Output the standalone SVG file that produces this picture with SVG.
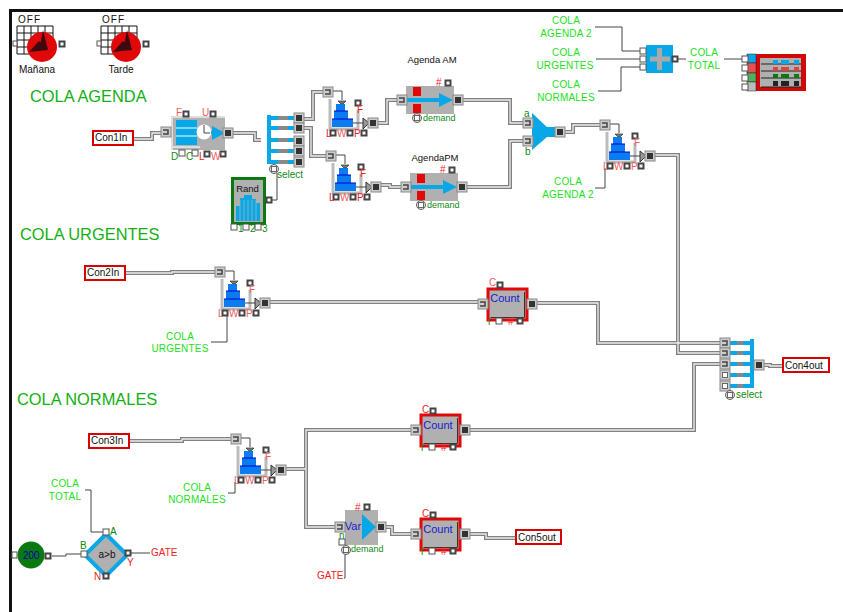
<svg xmlns="http://www.w3.org/2000/svg" width="843" height="612" viewBox="0 0 843 612">
<style>
text{font-family:"Liberation Sans",Arial,sans-serif;font-size:10px}
.t{font-size:16.400px;fill:#12b012}
.l{fill:#22e022;text-anchor:middle;letter-spacing:.2px}
.r{fill:#f02020}
.p{fill:#f05a5a}
.g{fill:#108a10}
.d{fill:#108a10;font-size:9px}
.k{fill:#111}
.m{fill:#111;text-anchor:middle}
.a{fill:#111;text-anchor:middle;font-size:9.500px}
.b{fill:#1a1ad0;text-anchor:middle;font-size:11px}
.box{fill:#fff;stroke:#d80000;stroke-width:2}
.thin{fill:none;stroke:#444;stroke-width:1}
.blue{fill:#08a8e8}
.gray{fill:#b0b0b0}
.hd{fill:none;stroke:#808080;stroke-width:4}
.hl{fill:none;stroke:#ececec;stroke-width:1.3}
</style>
<defs>
<g id="po"><rect x="-3.500" y="-3.500" width="7" height="7" fill="#444"/><rect x="-1.500" y="-1.500" width="3" height="3" fill="#fff"/></g>
<g id="pw"><rect x="-3" y="-3" width="6" height="6" fill="#fff" stroke="#555"/></g>
<g id="ci"><rect x="-5" y="-5" width="10" height="10" fill="#ccc" stroke="#888"/><path d="M-3-2H2V2H-3" fill="none" stroke="#444" stroke-width="1.500"/></g>
<g id="co"><rect x="-5" y="-5" width="10" height="10" fill="#ccc" stroke="#888"/><rect x="-3" y="-3" width="6" height="6" fill="#333"/></g>
<g id="cw"><rect x="-5" y="-5" width="10" height="10" fill="#ccc" stroke="#888"/><rect x="-2.500" y="-2.500" width="5" height="5" fill="#fff" stroke="#666"/></g>
<g id="dm"><circle r="4.500" fill="#ddd" stroke="#666"/><rect x="-2.500" y="-2.500" width="5" height="5" fill="#fff" stroke="#666"/></g>
<g id="sched">
<path d="M0 0H36V28H0Z M7 0V28M14 0V28M21 0V28M28 0V28M0 7H36M0 14H36M0 21H36" fill="#fff" stroke="#111"/>
<rect x="-4" y="15" width="4" height="5" fill="#fff" stroke="#555"/>
<circle cx="25" cy="21" r="15" fill="#e00808"/>
<path d="M26 4 31 24 21 24 24 15Z M31 24 12 26 22 15Z" fill="#3e0a10"/>
<use href="#po" x="45" y="18"/>
</g>
<g id="q">
<path d="M4-1H14V8" class="thin"/>
<path d="M2 7V37H30V18" fill="none" stroke="#bbb" stroke-width="3"/>
<path d="M10 9H18L15 12H13Z" fill="#777" stroke="#333" stroke-width=".7"/>
<path d="M8 12H17V19H20V27H25V35H4V27H6V19H8Z" fill="#0a7cf0"/>
<path d="M6 19H20M4 27H25" stroke="#0000d0" stroke-width="1"/>
<path d="M25 31H35" class="thin"/>
<path d="M35 26 41 31 35 37Z" fill="#999" stroke="#333"/>
<use href="#ci"/>
<use href="#co" x="45" y="31"/>
<use href="#po" x="30" y="11"/>
<use href="#po" x="5" y="41"/><use href="#po" x="22" y="41"/><use href="#po" x="36" y="41"/>
</g>
<g id="delay">
<rect x="4" y="-14" width="48" height="28" class="gray"/>
<rect x="11" y="-13" width="8" height="9" fill="#e00808"/><rect x="11" y="4" width="8" height="9" fill="#e00808"/>
<path d="M5-2H37V-7L51 0 37 7V2H5Z" class="blue"/>
<use href="#ci"/><use href="#co" x="56"/><use href="#po" x="46" y="-17"/><use href="#dm" x="15" y="18"/>
</g>
<g id="count">
<rect x="1" y="1" width="39" height="31" fill="#b0b0b0" stroke="#e00808" stroke-width="3"/>
<path d="M3.500 29.500H37.500V4" fill="none" stroke="#333"/>
<use href="#ci" x="-4" y="16"/><use href="#co" x="45" y="16"/>
<use href="#po" x="13" y="-3"/><use href="#pw" x="12" y="33"/><use href="#po" x="33" y="33"/>
</g>
<g id="w">
<path d="M133 139H152V133H163M228 133H255V140H261M300 119H313V92H325M300 128H311V156H328M373 123H387V100H399M376 185H390V187H403M458 100H510V123H525M462 187H510V141H525M560 132H573V125H602M650 155H678V353H722M125 273H172V272H217M265 302H479M532 303H598V343H722M129 441H182V439H233M281 469H306V430H413M306 469V527H337M465 430H694V364H722M381 527H392V534H413M465 534H486V538H516M759 365H770V366H783"/>
</g>
</defs>
<rect width="843" height="612" fill="#fff"/>
<g id="frame"><path d="M843 10.500H10.500V612" fill="none" stroke="#111" stroke-width="3"/></g>
<g id="connectors">
<use href="#w" class="hd"/><use href="#w" class="hl"/>
<path d="M595 27H622V51H640M596 59H640M598 91H621V67H640M678 59H686M724 59H742M605 188V168M595 188H605M211 342H227V316M228 493H235V482M85 490H91V532H103M52 556H66V554H81M131 553H150M344 578H345V554M269 200H277V173" class="thin"/>
</g>
<g id="schedAM"><use href="#sched" x="17" y="26"/><text x="18" y="23" class="k" style="letter-spacing:1px">OFF</text><text x="37" y="73" class="m">Mañana</text></g>
<g id="schedPM"><use href="#sched" x="101" y="26"/><text x="102" y="23" class="k" style="letter-spacing:1px">OFF</text><text x="121" y="73" class="m">Tarde</text></g>
<g id="titles"><text x="30" y="102" class="t">COLA AGENDA</text><text x="20" y="240" class="t">COLA URGENTES</text><text x="17" y="405" class="t">COLA NORMALES</text></g>
<g id="con1in"><rect x="93" y="131" width="40" height="14" class="box"/><text x="95" y="141" class="k">Con1In</text></g>
<g id="con2in"><rect x="85" y="266" width="40" height="14" class="box"/><text x="87" y="276" class="k">Con2In</text></g>
<g id="con3in"><rect x="89" y="434" width="40" height="14" class="box"/><text x="91" y="444" class="k">Con3In</text></g>
<g id="activity">
<rect x="172" y="117" width="53" height="33" class="gray"/>
<path d="M172 150V117H225" fill="none" stroke="#ddd" stroke-width="2"/><path d="M173 147H200" stroke="#ddd" stroke-width="2"/>
<rect x="176" y="120" width="21" height="25" class="blue"/><path d="M176 128H197M176 136H197" stroke="#fff"/>
<circle cx="204" cy="132" r="7.500" fill="#fff"/><path d="M204 125V133H210" class="thin"/>
<path d="M212 128V131H211V134H212V140L225 133 212 126Z" class="blue"/>
<use href="#ci" x="166" y="132"/><use href="#co" x="228" y="133"/>
<use href="#po" x="186" y="114"/><use href="#po" x="213" y="114"/><use href="#pw" x="182" y="153"/><use href="#pw" x="195" y="153"/><use href="#po" x="207" y="154"/><use href="#po" x="223" y="154"/>
<text x="176" y="116" class="p">F</text><text x="202" y="116" class="p">U</text><text x="171" y="160" class="g">D</text><text x="186" y="160" class="g">C</text><text x="199" y="160" class="r">L</text><text x="211" y="160" class="p">W</text>
</g>
<g id="select1">
<path d="M269 115V164M269 118H294M269 128H294M269 140H294M269 151H294M269 162H294" fill="none" stroke="#08a8e8" stroke-width="4"/>
<path d="M278 118H288M278 128H288M278 140H288M278 151H288M278 162H288" stroke="#888" stroke-width="4"/>
<use href="#co" x="299" y="118"/><use href="#co" x="299" y="128"/><use href="#co" x="299" y="141"/><use href="#co" x="299" y="151"/><use href="#co" x="299" y="162"/>
<use href="#dm" x="274" y="169"/><text x="277" y="178" class="g">select</text>
</g>
<g id="rand">
<rect x="232.500" y="178.500" width="32" height="45" class="gray" stroke="#0a7a10" stroke-width="3"/>
<path d="M236 221V206H240V198H244V195H248V195H252V199H256V203H260V221Z" class="blue"/><path d="M240 200V221M244 200V221M248 200V221M252 200V221M256 200V221" stroke="#b0b0b0" stroke-width=".8"/>
<text x="247.500" y="192" class="a">Rand</text>
<use href="#po" x="269" y="200"/><use href="#pw" x="234" y="227"/><use href="#pw" x="246" y="227"/><use href="#pw" x="258" y="227"/>
<text x="238" y="232" class="g">1</text><text x="250" y="232" class="g">2</text><text x="262" y="232" class="g">3</text>
</g>
<g id="queue1" transform="translate(328 92)"><use href="#q"/><text x="-2" y="45" class="r">L</text><text x="9" y="45" class="p">W</text><text x="26" y="45" class="r">P</text><text x="29" y="21" class="r">F</text></g>
<g id="queue2" transform="translate(331 156)"><use href="#q"/><text x="-2" y="45" class="r">L</text><text x="9" y="45" class="p">W</text><text x="26" y="45" class="r">P</text><text x="29" y="21" class="r">F</text></g>
<g id="queue3" transform="translate(605 125)"><use href="#q"/><text x="-2" y="45" class="p">L</text><text x="9" y="45" class="p">W</text><text x="26" y="45" class="p">P</text><text x="29" y="21" class="p">F</text></g>
<g id="queue4" transform="translate(220 272)"><use href="#q"/><text x="-2" y="45" class="p">L</text><text x="9" y="45" class="p">W</text><text x="26" y="45" class="p">P</text><text x="29" y="21" class="p">F</text></g>
<g id="queue5" transform="translate(236 439)"><use href="#q"/><text x="-2" y="45" class="p">L</text><text x="9" y="45" class="p">W</text><text x="26" y="45" class="p">P</text><text x="29" y="21" class="p">F</text></g>
<g id="agendaAM" transform="translate(402 100)"><use href="#delay"/><text x="30" y="-37" class="a">Agenda AM</text><text x="34" y="-14" class="r">#</text><text x="21" y="21" class="d">demand</text></g>
<g id="agendaPM" transform="translate(406 187)"><use href="#delay"/><text x="29" y="-26" class="a">AgendaPM</text><text x="34" y="-14" class="r">#</text><text x="21" y="21" class="d">demand</text></g>
<g id="combine">
<path d="M532 113 547 127H556V137H547L532 150Z" class="blue"/>
<use href="#ci" x="528" y="123"/><use href="#ci" x="528" y="141"/><use href="#co" x="560" y="132"/>
<text x="524" y="117" class="g">a</text><text x="525" y="155" class="g">b</text>
</g>
<g id="labels">
<text class="l" x="566" y="24">COLA</text><text class="l" x="566" y="37">AGENDA 2</text>
<text class="l" x="566" y="56">COLA</text><text class="l" x="565" y="69">URGENTES</text>
<text class="l" x="566" y="88">COLA</text><text class="l" x="566" y="101">NORMALES</text>
<text class="l" x="704" y="56">COLA</text><text class="l" x="704" y="69">TOTAL</text>
<text class="l" x="568" y="185">COLA</text><text class="l" x="568" y="198">AGENDA 2</text>
<text class="l" x="180" y="340">COLA</text><text class="l" x="180" y="352">URGENTES</text>
<text class="l" x="197" y="491">COLA</text><text class="l" x="197" y="503">NORMALES</text>
<text class="l" x="65" y="487">COLA</text><text class="l" x="65" y="500">TOTAL</text>
</g>
<g id="sum">
<rect x="646" y="45" width="27" height="28" class="blue"/>
<path d="M659.500 48V70M650 59H670" stroke="#aaa" stroke-width="5"/>
<use href="#pw" x="643" y="51"/><use href="#pw" x="643" y="59"/><use href="#pw" x="643" y="67"/><use href="#po" x="675" y="59"/>
</g>
<g id="plotter">
<rect x="755" y="54" width="51" height="37" fill="#d00808"/>
<rect x="760" y="58" width="41" height="29" class="gray"/>
<path d="M761 64H801M761 71H801M761 78H801M761 87H801" stroke="#222"/>
<path d="M773 60h5v4h-5ZM781 60h8v4h-8ZM794 60h5v4h-5Z" class="blue"/>
<path d="M773 67h5v4h-5ZM781 67h8v4h-8ZM794 67h5v4h-5Z" fill="#e04040"/>
<path d="M773 74h5v4h-5ZM781 74h8v4h-8ZM794 74h5v4h-5Z" fill="#0a7a10"/>
<path d="M773 81h5v5h-5ZM781 81h8v5h-8ZM794 81h5v5h-5Z" fill="#222"/>
<rect x="747" y="54" width="9" height="9" class="blue" stroke="#222" stroke-width=".5"/><rect x="747" y="63" width="9" height="10" fill="#e85050" stroke="#222" stroke-width=".5"/><rect x="747" y="73" width="9" height="9" fill="#50b060" stroke="#222" stroke-width=".5"/><rect x="747" y="82" width="9" height="9" fill="#bbb" stroke="#222" stroke-width=".5"/>
<use href="#pw" x="745" y="59"/><use href="#pw" x="745" y="68"/><use href="#pw" x="745" y="78"/><use href="#pw" x="745" y="87"/>
</g>
<g id="count1"><use href="#count" x="487" y="288"/><text x="505" y="302" class="b">Count</text><text x="489" y="286" class="p">C</text><text x="488" y="325" class="g">r</text><text x="508" y="325" class="r">#</text></g>
<g id="count2"><use href="#count" x="420" y="414"/><text x="438" y="429" class="b">Count</text><text x="422" y="413" class="r">C</text><text x="421" y="451" class="g">r</text><text x="441" y="451" class="r">#</text></g>
<g id="count3"><use href="#count" x="420" y="518"/><text x="438" y="533" class="b">Count</text><text x="422" y="517" class="r">C</text><text x="421" y="555" class="g">r</text><text x="441" y="555" class="r">#</text></g>
<g id="var">
<rect x="345" y="510" width="33" height="35" class="gray"/>
<path d="M362 514 376 527 362 540Z" class="blue"/>
<use href="#ci" x="340" y="527"/><use href="#co" x="381" y="527"/><use href="#po" x="367" y="507"/><use href="#pw" x="342" y="542"/><use href="#dm" x="346" y="550"/>
<text x="353" y="530" class="b">Var</text><text x="355" y="511" class="r">#</text><text x="339" y="539" class="g">n</text><text x="351" y="552" class="d">demand</text>
</g>
<g id="con5out"><rect x="516" y="530" width="45" height="14" class="box"/><text x="518" y="541" class="k">Con5out</text></g>
<g id="select2">
<path d="M752 339V388M730 343H752M730 353H752M730 364H752M730 375H752M730 386H752" fill="none" stroke="#08a8e8" stroke-width="4"/>
<path d="M737 343H743M737 353H743M737 364H743M737 375H743M737 386H743" stroke="#888" stroke-width="4"/>
<use href="#ci" x="725" y="343"/><use href="#ci" x="725" y="353"/><use href="#ci" x="725" y="364"/><use href="#cw" x="725" y="375"/><use href="#cw" x="725" y="386"/>
<use href="#co" x="759" y="365"/><use href="#dm" x="730" y="395"/><text x="736" y="398" class="g">select</text>
</g>
<g id="con4out"><rect x="783" y="358" width="46" height="14" class="box"/><text x="785" y="369" class="k">Con4out</text></g>
<g id="const200"><circle cx="31" cy="555" r="13.500" fill="#0a7a10"/><rect x="12" y="552" width="5" height="6" fill="#fff" stroke="#555"/><text x="31" y="559" class="b" style="font-size:10px;fill:#0000b0">200</text><use href="#po" x="48" y="556"/></g>
<g id="compare">
<path d="M106 534 127 555 106 576 85 555Z" class="gray" stroke="#08a8e8" stroke-width="4"/>
<text x="107" y="558" class="m">a&gt;b</text>
<use href="#pw" x="106" y="532"/><use href="#pw" x="84" y="554"/><use href="#po" x="128" y="553"/><use href="#po" x="106" y="576"/>
<text x="110" y="535" class="g">A</text><text x="80" y="549" class="g">B</text><text x="127" y="566" class="r">Y</text><text x="94" y="580" class="r">N</text>
</g>
<g id="gates"><text x="151" y="556" class="r">GATE</text><text x="317" y="579" class="r">GATE</text></g>
</svg>
